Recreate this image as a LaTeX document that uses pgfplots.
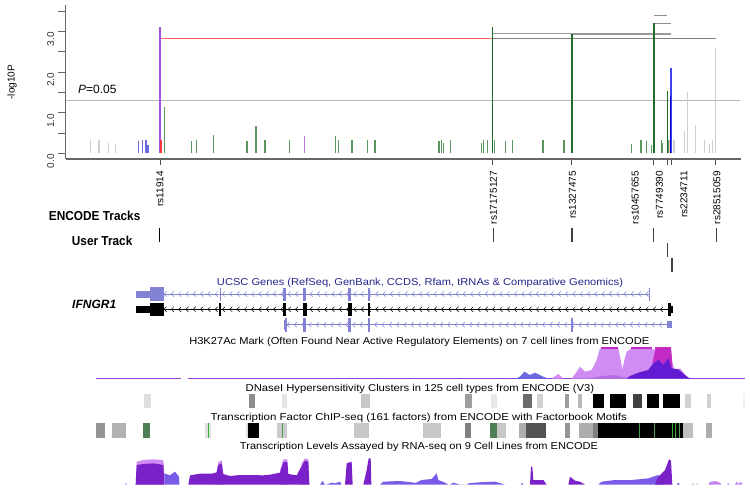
\documentclass[border=0pt]{standalone}
\usepackage{pgfplots}
\pgfplotsset{compat=1.18}
\usepackage{fontspec}
\setmainfont{Liberation Sans}
\usetikzlibrary{decorations.markings}
\pgfplotsset{
 table/zl/.style={x expr=80+\thisrowno{0}/3,y expr=330+\thisrowno{1}/3,header=false,row sep=\\},
 table/zr/.style={x expr=415+\thisrowno{0}/3,y expr=330+\thisrowno{1}/3,header=false,row sep=\\},
}
\definecolor{gsmall}{HTML}{5C965C}
\definecolor{gtall}{HTML}{1F6B2A}
\definecolor{lg}{HTML}{D0D0D0}
\definecolor{blu}{HTML}{6A6AE0}
\definecolor{genec}{HTML}{8383D6}
\definecolor{navy}{HTML}{24248C}
\definecolor{pk}{HTML}{D08CF2}
\definecolor{pu}{HTML}{7A22C8}
\definecolor{bl}{HTML}{7A5AE8}
\definecolor{gg}{HTML}{4F8055}
\definecolor{grn}{HTML}{35B035}
\definecolor{mg}{HTML}{C22CC4}
\newcommand\rc[5]{\addplot[draw=none,fill=#1] coordinates {(#2,#4)(#3,#4)(#3,#5)(#2,#5)};}
\newcommand\vl[4]{\addplot[color=#1,line width=#2pt] coordinates {(#3,423.3)(#3,437.7)};}
\newcommand\txt[5]{\node[text=#1,inner sep=0pt,anchor=center] at (axis cs:#2,#3) {\fontsize{10}{12}\selectfont\resizebox{#4pt}{\height}{#5}};}
\tikzset{chev/.style={postaction={decorate},decoration={markings,mark=between positions 0 and 1 step 7.3pt with {\draw[line width=.5pt,#1] (2.6pt,2.6pt)--(0,0)--(2.6pt,-2.6pt);}}}}
\begin{document}
\begin{tikzpicture}[x=1pt,y=1pt]
\path[use as bounding box] (0,0) rectangle (750,491);
% ---------- overlay in picture coordinates
\begin{axis}[at={(0pt,0pt)},anchor=south west,scale only axis,width=750pt,height=491pt,
 xmin=0,xmax=750,ymin=0,ymax=491,y dir=reverse,hide axis,clip=false]
% labels
\node[anchor=west,inner sep=0pt] at (axis cs:48.7,215.7) {\fontsize{13}{15}\selectfont\resizebox{91.5pt}{\height}{\bfseries ENCODE Tracks}};
\node[anchor=west,inner sep=0pt] at (axis cs:71.7,241) {\fontsize{13}{15}\selectfont\resizebox{60.5pt}{\height}{\bfseries User Track}};
\node[anchor=west,inner sep=0pt] at (axis cs:72,304) {\fontsize{12}{14}\selectfont\bfseries\itshape IFNGR1};
\foreach \x/\s in {160/rs11914,493.5/rs17175127,572.5/rs1327475,635.2/rs10457655,659.5/rs7749390,684/rs2234711,717/rs28515059}{
 \edef\temp{\noexpand\node[rotate=90,anchor=east,inner sep=0pt] at (axis cs:\x,171) {\noexpand\fontsize{10}{12}\noexpand\selectfont \s};}\temp}
% user track dashes
\addplot[black,line width=1pt] coordinates {(159.5,228.3)(159.5,241.7)};
\addplot[black!75,line width=1.1pt] coordinates {(493.3,228.3)(493.3,241.7)};
\addplot[black!75,line width=1.1pt] coordinates {(572,228.3)(572,241.7)};
\addplot[black!75,line width=1.1pt] coordinates {(653.7,228.3)(653.7,241.7)};
\addplot[black!75,line width=1.1pt] coordinates {(716.7,228.3)(716.7,241.7)};
\addplot[black!75,line width=1.1pt] coordinates {(667.7,243.3)(667.7,256.7)};
\addplot[black!75,line width=1.1pt] coordinates {(672,258.3)(672,271.7)};
% gene track
\txt{navy}{420}{282.5}{406}{UCSC Genes (RefSeq, GenBank, CCDS, Rfam, tRNAs \& Comparative Genomics)}
\addplot[genec,line width=.7pt,chev=genec] coordinates {(164,294)(649,294)};
\addplot[black,line width=.9pt,chev=black] coordinates {(164,309.3)(668,309.3)};
\addplot[genec,line width=.7pt,chev=genec] coordinates {(287,324.7)(668,324.7)};
\rc{genec}{135.7}{150}{291}{298.3}
\rc{genec}{150}{164}{287.3}{301}
\rc{genec}{219.5}{221}{288}{301}
\rc{genec}{282.7}{286}{288}{301}
\rc{genec}{303}{306.4}{288}{301}
\rc{genec}{348}{351.4}{288}{301}
\rc{genec}{368.3}{369.8}{288}{301}
\rc{genec}{648.6}{649.6}{288}{301}
\rc{black}{135.7}{150}{306}{313.3}
\rc{black}{150}{164}{302.7}{316}
\rc{black}{219.2}{221.2}{302.7}{316}
\rc{black}{282.5}{286.2}{302.7}{316}
\rc{black}{303}{306.6}{302.7}{316}
\rc{black}{348}{351.6}{302.7}{316}
\rc{black}{368.2}{370}{302.7}{316}
\rc{black}{667.7}{671}{302.7}{316}
\rc{black}{671}{672.7}{306}{313}
\rc{genec}{283.7}{287}{320}{329.5}
\rc{genec}{284.5}{287}{318}{331.5}
\rc{genec}{303}{306.4}{318}{331.5}
\rc{genec}{348}{351.4}{318}{331.5}
\rc{genec}{368.3}{369.8}{318}{331.5}
\rc{genec}{570.8}{572.8}{318}{331.5}
\rc{genec}{667.3}{672.3}{321}{328}
% H3K27Ac
\txt{black}{419.3}{341.7}{460}{H3K27Ac Mark (Often Found Near Active Regulatory Elements) on 7 cell lines from ENCODE}
\addplot[color=pu!70!pk,line width=.7pt] coordinates {(96,378.4)(181,378.4)};
\addplot[color=pu!70!pk,line width=.7pt] coordinates {(188,378.4)(745,378.4)};
\addplot[draw=none,fill=pk] table[zr] {470 146\\485 125\\495 110\\510 125\\530 120\\545 90\\555 55\\610 55\\617 90\\622 118\\628 90\\635 65\\650 55\\720 58\\730 60\\768 55\\772 100\\780 120\\795 115\\820 146\\};
\addplot[draw=none,fill=mg] table[zr] {712 100\\722 55\\768 55\\772 100\\772 118\\745 105\\730 92\\};
\addplot[draw=none,fill=pk!70!pu] table[zr] {520 146\\560 138\\600 135\\630 142\\650 146\\};
\addplot[draw=none,fill=pu!80!blue] table[zr] {635 146\\645 138\\670 128\\700 120\\715 100\\730 90\\745 105\\760 85\\770 115\\790 118\\810 135\\825 146\\};
\addplot[draw=none,fill=blu] table[zr] {300 146\\315 140\\328 125\\345 135\\360 128\\385 140\\400 146\\};
\addplot[draw=none,fill=pk] table[zr] {410 146\\430 132\\445 146\\};
\rc{mg}{600.7}{618.3}{346.7}{348.7}
\rc{mg}{630.7}{652.3}{346.7}{348.7}
\rc{mg}{655}{671}{346.7}{348.7}
% DNase
\txt{black}{420}{389}{348.5}{DNaseI Hypersensitivity Clusters in 125 cell types from ENCODE (V3)}
\newcommand\dn[3]{\rc{#1}{#2}{#3}{394.3}{408.3}}
\dn{black!12}{144}{150.7}\dn{black!45}{249.3}{254.7}\dn{black!10}{282.3}{286.7}\dn{black!22}{360.7}{370}
\dn{black!38}{464.7}{472}\dn{black!9}{491}{496.7}\dn{black!58}{522.7}{531.7}\dn{black!18}{537}{543.3}
\dn{black!38}{565}{569.3}\dn{black!28}{577.7}{581.7}\dn{black}{592.7}{604}\dn{black}{609.7}{625.7}
\dn{black!75}{633.3}{641.7}\dn{black}{647}{659.3}\dn{black}{663.3}{680}\dn{black!18}{685.3}{690.7}
\dn{black!18}{706.7}{710.7}\dn{black!6}{743.3}{745}
% TF
\txt{black}{418.8}{418}{416.3}{Transcription Factor ChIP-seq (161 factors) from ENCODE with Factorbook Motifs}
\newcommand\tf[3]{\rc{#1}{#2}{#3}{423.3}{437.7}}
\tf{black!42}{96}{105.3}\tf{black!30}{112}{126}\tf{gg}{143}{149.7}\tf{black!12}{205.3}{211.3}
\tf{black!12}{245.7}{247.7}\tf{black}{247.7}{259.3}\tf{black!20}{276.7}{287.3}\tf{black!22}{354}{368.7}
\tf{black!22}{423.3}{441}\tf{black!50}{465}{471}\tf{gg}{490.3}{496.7}\tf{black!22}{496.7}{506}
\tf{black!32}{519}{525.7}\tf{black!68}{525.7}{546}\tf{black!42}{564.7}{570}\tf{black!32}{578.7}{592.7}
\tf{black!50}{592.7}{598}\tf{black}{598}{683.3}\tf{black!25}{683.3}{693.3}\tf{black!32}{705.7}{712}
\vl{grn}{.8}{208.7}\vl{grn}{.8}{253.3}\vl{grn!70!gray}{.9}{282}\vl{grn!70!gray}{.9}{690}
\vl{grn!70!gray}{.7}{639.3}\vl{grn!70!gray}{.7}{651.7}\vl{grn!70!gray}{.7}{654.3}\vl{grn!70!gray}{.7}{665}
\vl{grn}{.9}{672}\vl{grn}{.9}{673.3}\vl{grn}{.9}{675}\vl{grn}{.9}{676.7}\vl{grn!70!gray}{.7}{679}\vl{grn!70!gray}{.7}{681.7}
% RNA-seq
\txt{black}{419}{447}{358}{Transcription Levels Assayed by RNA-seq on 9 Cell Lines from ENCODE}
\addplot[draw=none,fill=pk] table[zl] {167 464\\170 395\\190 390\\220 388\\250 390\\253 430\\253 464\\};
\addplot[draw=none,fill=pk] table[zl] {135 464\\137 458\\141 464\\};
\addplot[draw=none,fill=pk] table[zl] {600 464\\600 420\\610 388\\622 388\\625 464\\};
\addplot[draw=none,fill=pk] table[zl] {665 464\\665 400\\675 385\\685 388\\688 464\\};
\addplot[draw=none,fill=pk] table[zl] {405 464\\412 410\\416 395\\426 392\\430 464\\};
\addplot[draw=none,fill=pu] table[zl] {167 464\\170 405\\190 402\\220 400\\250 405\\253 464\\};
\addplot[draw=none,fill=bl] table[zl] {253 464\\253 430\\270 436\\285 425\\297 440\\298 464\\};
\addplot[draw=none,fill=pu] table[zl] {325 464\\330 436\\360 431\\395 431\\410 427\\415 405\\425 400\\430 432\\450 438\\480 435\\510 435\\550 436\\570 434\\600 428\\610 397\\622 395\\625 432\\650 436\\665 408\\675 392\\685 395\\688 464\\};
\addplot[draw=none,fill=bl] table[zl] {720 464\\728 453\\735 464\\740 464\\755 458\\765 460\\780 455\\785 464\\};
\addplot[draw=none,fill=pu] table[zl] {795 464\\800 400\\815 395\\818 464\\};
\addplot[draw=none,fill=pu] table[zl] {850 464\\860 420\\866 385\\872 385\\874 464\\};
\addplot[draw=none,fill=bl] table[zl] {900 464\\910 455\\960 453\\1005 458\\1005 464\\};
\addplot[draw=none,fill=bl] table[zr] {0 464\\0 460\\20 450\\50 447\\65 430\\70 450\\90 458\\100 464\\};
\addplot[draw=none,fill=bl] table[zr] {105 464\\115 458\\130 462\\135 464\\155 464\\160 460\\190 457\\240 455\\270 464\\};
\addplot[draw=none,fill=bl] table[zr] {318 464\\321 458\\325 464\\};
\addplot[draw=none,fill=pu] table[zr] {345 464\\348 410\\352 410\\355 450\\385 450\\395 464\\};
\addplot[draw=none,fill=pu] table[zr] {460 464\\465 440\\480 452\\495 455\\510 464\\};
\addplot[draw=none,fill=bl] table[zr] {550 464\\560 455\\600 450\\650 450\\700 445\\730 435\\750 464\\};
\addplot[draw=none,fill=pu] table[zr] {720 464\\730 440\\750 420\\762 388\\768 392\\772 464\\};
\addplot[draw=none,fill=bl] table[zr] {785 464\\790 458\\795 464\\};
\addplot[draw=none,fill=bl!60] table[zr] {830 464\\833 460\\836 464\\843 464\\846 460\\849 464\\};
\addplot[draw=none,fill=pk!80!bl] table[zr] {880 464\\885 456\\900 453\\915 458\\920 464\\};
\addplot[draw=none,fill=pk!80!bl] table[zr] {935 464\\940 460\\945 464\\};
\addplot[draw=none,fill=pk!80!bl] table[zr] {960 464\\965 455\\970 462\\978 455\\982 464\\};
\end{axis}
% ---------- association plot
\begin{axis}[at={(65.7pt,332pt)},anchor=south west,scale only axis,width=675pt,height=154pt,
 xmin=65.7,xmax=740.7,ymin=-0.14,ymax=3.647,
 axis lines=left,axis line style={-,color=black!60,line width=1.1pt},
 tick align=outside,major tick length=8pt,
 ytick={0,0.5,1,1.5,2,2.5,3,3.5},yticklabels={0.0,,1.0,,2.0,,3.0,},
 xtick={160,492.3,571.7,653.7,667.3,671,715.7},xticklabels={},
 x tick style={color=black!70,line width=.9pt,/pgfplots/major tick length=6pt},
 y tick style={color=black!60,line width=.8pt},
 yticklabel style={rotate=90,anchor=south,font=\fontsize{10}{11}\selectfont,text=black!80,xshift=-8pt},
 /pgf/number format/assume math mode=true,
 clip=false]
\node[rotate=90,inner sep=0pt] at (axis cs:12,1.75) {\fontsize{10}{12}\selectfont -log10P};
\node[anchor=west,inner sep=0pt] at (axis cs:78,1.58) {\fontsize{12}{14}\selectfont\textit{P}=0.05};
\addplot[color=black!28,line width=.7pt] coordinates {(66,1.3)(740,1.3)};
% LD lines
\addplot[color=red!50!pink,line width=1.2pt] coordinates {(160,2.82)(492.3,2.82)};
\addplot[color=black!50,line width=1.2pt] coordinates {(492.3,2.82)(715.7,2.82)};
\addplot[color=black!40,line width=1.1pt] coordinates {(492.3,2.94)(671,2.94)};
\addplot[color=black!40,line width=1.2pt] coordinates {(571.7,2.92)(671,2.92)};
\addplot[color=black!45,line width=1.1pt] coordinates {(653.7,3.2)(671,3.2)};
\addplot[color=black!45,line width=1.1pt] coordinates {(653.7,3.385)(667.3,3.385)};
% stems
\addplot[ycomb,color=lg,line width=1.2pt] coordinates {(90.7,.33)(99,.33)(108.3,.25)(115.3,.22)(674,.33)(684.7,.55)(687.3,1.5)(695.3,.69)(704.7,.33)(709.3,.23)(712.7,.33)(715.7,2.58)};
\addplot[ycomb,color=blu,line width=1.2pt] coordinates {(138.7,.31)(142.3,.33)(145.3,.33)(146.3,.33)(147.7,.2)(148.7,.2)};
\addplot[ycomb,color=gsmall,line width=1.2pt] coordinates {(164.7,1.13)(191.7,.31)(196.3,.33)(213.3,.45)(247,.3)(256,.66)(265,.33)(289.7,.33)(335.7,.43)(338.7,.33)(352,.33)(367.3,.33)(374.3,.33)(375.7,.33)(439,.3)(441.3,.33)(443.3,.26)(450.7,.33)(481.3,.26)(483.7,.33)(487.7,.33)(494.7,.33)(505.7,.3)(512.3,.33)(543,.33)(564,.33)(563.3,.2)(631.3,.23)(640.7,.33)(641.7,.33)(646.3,.3)(651.7,.2)(661.3,.33)(662.3,.25)(668.7,.33)};
\addplot[ycomb,color=pk!80!pu,line width=1.2pt] coordinates {(304.7,.43)};
\addplot[ycomb,color=pu!55!pk,line width=1.7pt] coordinates {(160,3.1)};
\addplot[ycomb,color=red!70!pink,line width=1.2pt] coordinates {(161,.33)};
\addplot[ycomb,color=gtall,line width=1.6pt] coordinates {(492.3,3.1)(571.7,2.93)(653.7,3.2)(667.3,1.52)};
\addplot[ycomb,color=pink,line width=1.2pt] coordinates {(670,.33)};
\addplot[ycomb,color=blu!60!blue,line width=1.4pt] coordinates {(671,2.09)};
\addplot[ycomb,color=blue!80!black,line width=1.4pt] coordinates {(670.6,1.41)};
\end{axis}
\end{tikzpicture}
\end{document}
